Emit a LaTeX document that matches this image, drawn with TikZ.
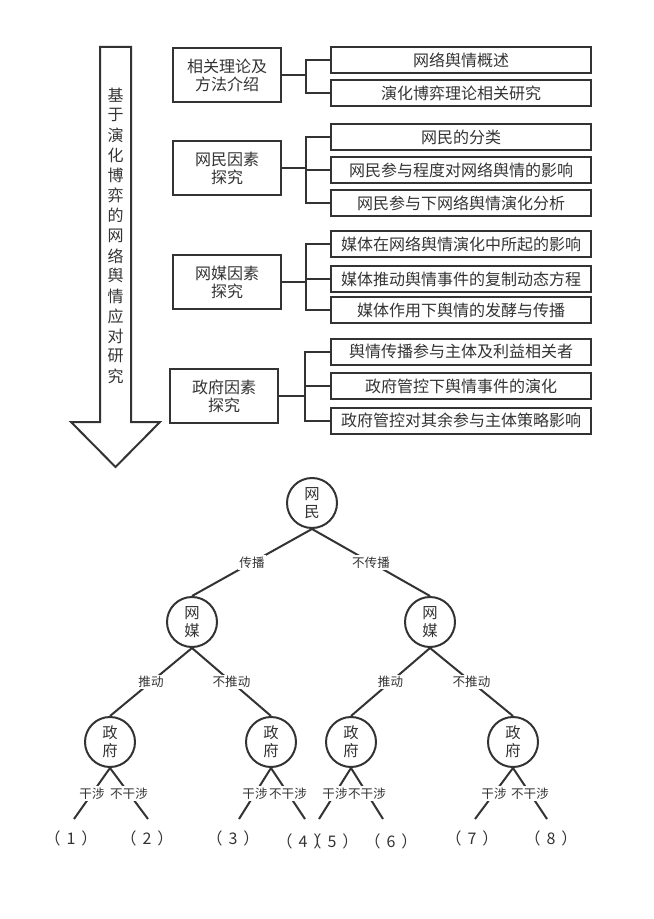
\documentclass[tikz,border=0pt]{standalone}
\usepackage{fontspec}
\setmainfont{Noto Sans CJK SC}
\usepackage{xcolor}
\usepackage{tikz}
\usetikzlibrary{positioning,calc}
\definecolor{ink}{HTML}{333333}
\newcommand{\outcome}[1]{（\kern4.5pt#1\kern4.5pt）}

\begin{document}
\begin{tikzpicture}[x=0.75pt,y=-0.75pt,
  every node/.style={text=ink},
  box/.style={draw=ink,line width=1.5pt,minimum width=81pt,minimum height=40.5pt,align=center,inner sep=0pt,font=\fontsize{12}{13.5}\selectfont},
  sub/.style={draw=ink,line width=1.5pt,minimum width=195pt,minimum height=19.5pt,inner sep=0pt,font=\fontsize{12}{13.5}\selectfont},
  actor/.style={circle,draw=ink,line width=1.5pt,minimum size=37.5pt,inner sep=0pt,align=center,font=\fontsize{11.5}{13.5}\selectfont},
  choice/.style={fill=white,inner sep=1pt,font=\fontsize{9.4}{11}\selectfont},
  leaf/.style={inner sep=0pt,font=\fontsize{12}{14}\selectfont},
  link/.style={draw=ink,line width=1.5pt}]
\useasboundingbox (0,0) rectangle (653,919);

% Big arrow on the left
\draw[link,line join=miter] (100,47) -- (131,47) -- (131,422) -- (160,422) -- (115.5,467)
  -- (71,422) -- (100,422) -- cycle;
\foreach \c [count=\i] in {基,于,演,化,博,弈,的,网,络,舆,情,应,对,研,究}
  \node[font=\fontsize{12}{13}\selectfont] (v\i) at (115.5,{95+20.1*(\i-1)}) {\c};

% Research parts
\node[box] (b1) at (227,75)  {相关理论及\\方法介绍};
\node[box] (b2) at (227,168) {网民因素\\探究};
\node[box] (b3) at (227,282) {网媒因素\\探究};
\node[box] (b4) at (224,396) {政府因素\\探究};

\node[sub] (r11) at (461,60.5)  {网络舆情概述};
\node[sub] (r12) at (461,93.5)  {演化博弈理论相关研究};
\node[sub] (r21) at (461,137.5) {网民的分类};
\node[sub] (r22) at (461,170.5) {网民参与程度对网络舆情的影响};
\node[sub] (r23) at (461,203)   {网民参与下网络舆情演化分析};
\node[sub] (r31) at (461,244.5) {媒体在网络舆情演化中所起的影响};
\node[sub] (r32) at (461,279)   {媒体推动舆情事件的复制动态方程};
\node[sub] (r33) at (461,310)   {媒体作用下舆情的发酵与传播};
\node[sub] (r41) at (461,351.5) {舆情传播参与主体及利益相关者};
\node[sub] (r42) at (461,386)   {政府管控下舆情事件的演化};
\node[sub] (r43) at (461,420.5) {政府管控对其余参与主体策略影响};

% Brackets
\draw[link] (b1.east) -- (306,75) coordinate (j1);
\draw[link] (b2.east) -- (306,168) coordinate (j2);
\draw[link] (b3.east) -- (306,282) coordinate (j3);
\draw[link] (b4.east) -- (305,396) coordinate (j4);
\foreach \r in {r11,r12} \draw[link] (j1) |- (\r.west);
\foreach \r in {r21,r22,r23} \draw[link] (j2) |- (\r.west);
\foreach \r in {r31,r32,r33} \draw[link] (j3) |- (\r.west);
\foreach \r in {r41,r42,r43} \draw[link] (j4) |- (\r.west);

% Game tree
\node[actor] (root) at (312,503) {网\\民};
\node[actor] (m1) at (192,622) {网\\媒};
\node[actor] (m2) at (430,622) {网\\媒};
\node[actor] (g1) at (110,742) {政\\府};
\node[actor] (g2) at (271,742) {政\\府};
\node[actor] (g3) at (351,742) {政\\府};
\node[actor] (g4) at (513,742) {政\\府};

\draw[link] (root.south) -- node[choice] {传播} (m1.north);
\draw[link] (root.south) -- node[choice] {不传播} (m2.north);
\draw[link] (m1.south) -- node[choice] {推动} (g1.north);
\draw[link] (m1.south) -- node[choice] {不推动} (g2.north);
\draw[link] (m2.south) -- node[choice] {推动} (g3.north);
\draw[link] (m2.south) -- node[choice] {不推动} (g4.north);

% Outcomes
\coordinate (e1) at (74,819);  \coordinate (e2) at (148,819);
\coordinate (e3) at (239,819); \coordinate (e4) at (305,819);
\coordinate (e5) at (319,819); \coordinate (e6) at (383,819);
\coordinate (e7) at (475,819); \coordinate (e8) at (547,819);
\foreach \g [count=\i] in {g1,g2,g3,g4} {
  \pgfmathtruncatemacro{\a}{2*\i-1}
  \pgfmathtruncatemacro{\b}{2*\i}
  \draw[link] (\g.south) -- node[choice] {干涉} (e\a);
  \draw[link] (\g.south) -- node[choice] {不干涉} (e\b);
}
\node[leaf] (l1) at (71,838)  {\outcome{1}};
\node[leaf] (l2) at (147,838) {\outcome{2}};
\node[leaf] (l3) at (233,838) {\outcome{3}};
\node[leaf] (l4) at (303,841) {\outcome{4}};
\node[leaf] (l5) at (332,841) {\outcome{5}};
\node[leaf] (l6) at (391,841) {\outcome{6}};
\node[leaf] (l7) at (472,838) {\outcome{7}};
\node[leaf] (l8) at (551,838) {\outcome{8}};
\end{tikzpicture}
\end{document}
